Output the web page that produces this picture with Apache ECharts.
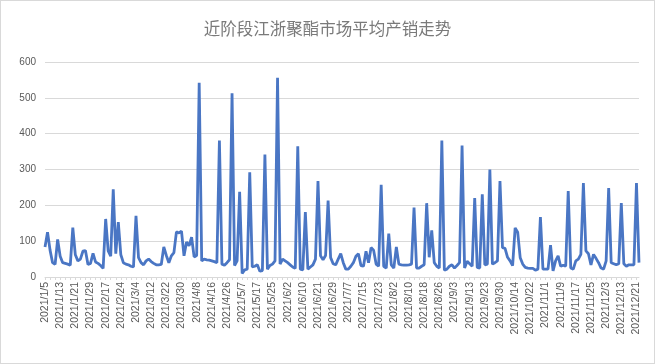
<!DOCTYPE html>
<html><head><meta charset="utf-8">
<script src="https://cdn.jsdelivr.net/npm/echarts@6/dist/echarts.min.js"></script>
<style>html,body{margin:0;padding:0;background:#fff}#c{width:655px;height:364px;box-sizing:border-box;border:1px solid #d9d9d9}</style>
</head><body><div id="c"></div>
<script>
const titleText = '近阶段江浙聚酯市场平均产销走势';
const yTicks = [0, 100, 200, 300, 400, 500, 600];
const dates = [
'2021/1/5','2021/1/6','2021/1/7','2021/1/8','2021/1/11','2021/1/12',
'2021/1/13','2021/1/14','2021/1/15','2021/1/18','2021/1/19','2021/1/20',
'2021/1/21','2021/1/22','2021/1/25','2021/1/26','2021/1/27','2021/1/28',
'2021/1/29','2021/2/1','2021/2/2','2021/2/3','2021/2/4','2021/2/5',
'2021/2/17','2021/2/18','2021/2/19','2021/2/20','2021/2/22','2021/2/23',
'2021/2/24','2021/2/25','2021/2/26','2021/3/1','2021/3/2','2021/3/3',
'2021/3/4','2021/3/5','2021/3/8','2021/3/9','2021/3/10','2021/3/11',
'2021/3/12','2021/3/15','2021/3/16','2021/3/17','2021/3/18','2021/3/19',
'2021/3/22','2021/3/23','2021/3/24','2021/3/25','2021/3/26','2021/3/29',
'2021/3/30','2021/3/31','2021/4/1','2021/4/2','2021/4/6','2021/4/7',
'2021/4/8','2021/4/9','2021/4/12','2021/4/13','2021/4/14','2021/4/15',
'2021/4/16','2021/4/19','2021/4/20','2021/4/21','2021/4/22','2021/4/23',
'2021/4/26','2021/4/27','2021/4/28','2021/4/29','2021/4/30','2021/5/6',
'2021/5/7','2021/5/10','2021/5/11','2021/5/12','2021/5/13','2021/5/14',
'2021/5/17','2021/5/18','2021/5/19','2021/5/20','2021/5/21','2021/5/24',
'2021/5/25','2021/5/26','2021/5/27','2021/5/28','2021/5/31','2021/6/1',
'2021/6/2','2021/6/3','2021/6/4','2021/6/7','2021/6/8','2021/6/9',
'2021/6/10','2021/6/11','2021/6/15','2021/6/16','2021/6/17','2021/6/18',
'2021/6/21','2021/6/22','2021/6/23','2021/6/24','2021/6/25','2021/6/28',
'2021/6/29','2021/6/30','2021/7/1','2021/7/2','2021/7/5','2021/7/6',
'2021/7/7','2021/7/8','2021/7/9','2021/7/12','2021/7/13','2021/7/14',
'2021/7/15','2021/7/16','2021/7/19','2021/7/20','2021/7/21','2021/7/22',
'2021/7/23','2021/7/26','2021/7/27','2021/7/28','2021/7/29','2021/7/30',
'2021/8/2','2021/8/3','2021/8/4','2021/8/5','2021/8/6','2021/8/9',
'2021/8/10','2021/8/11','2021/8/12','2021/8/13','2021/8/16','2021/8/17',
'2021/8/18','2021/8/19','2021/8/20','2021/8/23','2021/8/24','2021/8/25',
'2021/8/26','2021/8/27','2021/8/30','2021/8/31','2021/9/1','2021/9/2',
'2021/9/3','2021/9/6','2021/9/7','2021/9/8','2021/9/9','2021/9/10',
'2021/9/13','2021/9/14','2021/9/15','2021/9/16','2021/9/17','2021/9/22',
'2021/9/23','2021/9/24','2021/9/26','2021/9/27','2021/9/28','2021/9/29',
'2021/9/30','2021/10/8','2021/10/9','2021/10/11','2021/10/12','2021/10/13',
'2021/10/14','2021/10/15','2021/10/18','2021/10/19','2021/10/20','2021/10/21',
'2021/10/22','2021/10/25','2021/10/26','2021/10/27','2021/10/28','2021/10/29',
'2021/11/1','2021/11/2','2021/11/3','2021/11/4','2021/11/5','2021/11/8',
'2021/11/9','2021/11/10','2021/11/11','2021/11/12','2021/11/15','2021/11/16',
'2021/11/17','2021/11/18','2021/11/19','2021/11/22','2021/11/23','2021/11/24',
'2021/11/25','2021/11/26','2021/11/29','2021/11/30','2021/12/1','2021/12/2',
'2021/12/3','2021/12/6','2021/12/7','2021/12/8','2021/12/9','2021/12/10',
'2021/12/13','2021/12/14','2021/12/15','2021/12/16','2021/12/17','2021/12/20',
'2021/12/21','2021/12/22'
];
const salesRatio = [
84,125,75,40,35,105,
58,40,38,36,33,138,
62,45,50,72,74,35,
38,66,42,38,32,24,
162,73,58,245,65,153,
62,40,36,34,30,28,
171,54,40,34,45,50,
43,38,34,34,35,84,
60,40,59,68,126,123,
128,59,98,87,111,56,
60,542,45,50,48,47,
45,43,40,381,36,33,
40,48,513,32,45,238,
10,20,22,292,28,30,
34,16,18,342,22,32,
36,45,556,36,50,45,
40,34,28,24,365,22,
20,181,22,28,34,50,
268,59,48,60,213,54,
37,34,50,65,40,22,
22,30,40,58,65,32,
30,72,40,82,75,36,
30,257,30,25,121,34,
25,84,36,34,33,33,
34,36,194,25,25,30,
34,206,55,130,40,30,
25,381,19,22,30,34,
25,32,40,367,25,44,
37,30,220,27,25,231,
34,36,300,36,40,45,
268,82,80,55,45,32,
137,125,54,36,27,25,
24,24,19,22,167,22,
22,22,89,17,45,59,
30,33,30,240,25,22,
45,50,63,262,73,65,
34,63,52,40,25,22,
45,248,40,37,34,37,
206,37,30,34,34,34,
262,40
];
const chart = echarts.init(document.getElementById('c'), null, {renderer: 'canvas'});
chart.setOption({
  animation: false,
  title: {
    text: titleText, left: 'center', top: 14,
    textStyle: {fontFamily: 'Noto Sans CJK SC', fontSize: 16.5, fontWeight: 'normal', color: '#7a7a7a'}
  },
  grid: {left: 44, right: 15, top: 61, bottom: 86},
  xAxis: {
    type: 'category', data: dates, boundaryGap: false,
    axisLine: {lineStyle: {color: '#d9d9d9'}},
    axisTick: {show: true, interval: 1, length: 3, lineStyle: {color: '#d9d9d9'}},
    axisLabel: {interval: 5, rotate: 90, fontSize: 10.5, color: '#595959', fontFamily: 'Liberation Sans', margin: 5}
  },
  yAxis: {
    type: 'value', min: yTicks[0], max: yTicks[yTicks.length - 1], interval: 100,
    axisLine: {show: false}, axisTick: {show: false},
    axisLabel: {fontSize: 10, color: '#595959', fontFamily: 'Liberation Sans', margin: 9},
    splitLine: {lineStyle: {color: '#d9d9d9'}}
  },
  series: [{
    type: 'line', data: salesRatio, showSymbol: false, symbol: 'none',
    lineStyle: {color: '#4a76c4', width: 2.8}
  }]
});
</script></body></html>
